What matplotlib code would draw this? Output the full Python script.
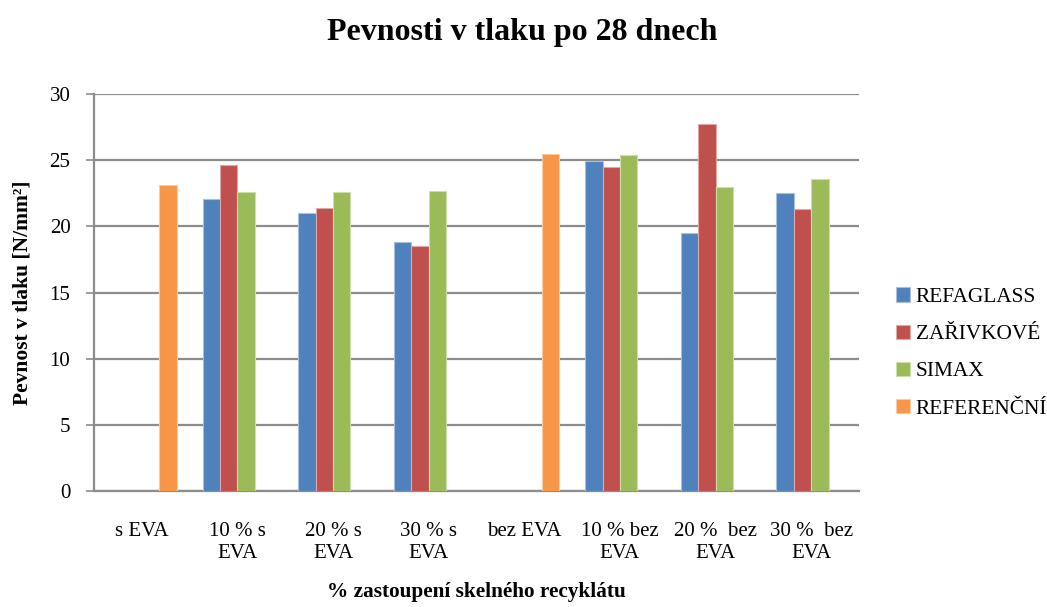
import matplotlib
matplotlib.use("Agg")
import matplotlib.pyplot as plt
import numpy as np

categories = ["s EVA", "10 % s\nEVA", "20 % s\nEVA", "30 % s\nEVA", "bez EVA",
              "10 % bez\nEVA", "20 %  bez\nEVA", "30 %  bez\nEVA"]
series_names = ["REFAGLASS", "ZAŘIVKOVÉ", "SIMAX", "REFERENČNÍ"]
refaglass = [np.nan, 22.1, 21.0, 18.8, np.nan, 24.9, 19.5, 22.5]
zarivkove = [np.nan, 24.6, 21.4, 18.5, np.nan, 24.5, 27.7, 21.3]
simax = [np.nan, 22.6, 22.6, 22.7, np.nan, 25.4, 23.0, 23.6]
referencni = [23.1, np.nan, np.nan, np.nan, 25.5, np.nan, np.nan, np.nan]
colors = ["#4F81BD", "#C0504D", "#9BBB59", "#F79646"]
edges = ["#A7C0DE", "#DFA8A6", "#CDDDAC", "#FBCAA2"]

plt.rcParams['font.family'] = ['Liberation Serif', 'DejaVu Serif']

fig = plt.figure(figsize=(10.47, 6.07), dpi=100)
ax = fig.add_axes([94/1047, 1 - 491/607, (859 - 94)/1047, (491 - 94)/607])

x = np.arange(len(categories))
w = 1 / 5.5
data = [refaglass, zarivkove, simax, referencni]
for i, (vals, name) in enumerate(zip(data, series_names)):
    ax.bar(x + (i - 1.5) * w, vals, width=w, color=colors[i], edgecolor=edges[i],
           linewidth=0.8, label=name, zorder=3)

ax.set_xlim(-0.5, len(categories) - 0.5)
ax.set_ylim(0, 30)
ax.set_yticks(range(0, 31, 5))
ax.yaxis.grid(True, color="#8C8C8C", linewidth=1.6, zorder=0)
ax.set_axisbelow(True)
for s in ["top", "right"]:
    ax.spines[s].set_visible(False)
for s in ["left", "bottom"]:
    ax.spines[s].set_color("#8C8C8C")
    ax.spines[s].set_linewidth(1.6)
ax.tick_params(axis="y", length=6, width=1.2, color="#8C8C8C", labelsize=15, pad=11)
ax.tick_params(axis="x", length=0, labelsize=15, pad=22)
ax.set_xticks(x)
ax.set_xticklabels(categories, linespacing=1.25)

ax.set_ylabel("Pevnost v tlaku [N/mm²]", fontsize=15.5, fontweight="bold", labelpad=12)
ax.set_xlabel("% zastoupení skelného recyklátu", fontsize=15.3, fontweight="bold", labelpad=14)
fig.suptitle("Pevnosti v tlaku po 28 dnech", fontsize=23, fontweight="bold", x=522/1047, y=0.97)

leg = fig.legend(loc="upper left", bbox_to_anchor=(890/1047, 1 - 281/607), frameon=False,
                 fontsize=15.4, handlelength=0.65, handleheight=0.65, handletextpad=0.25,
                 labelspacing=0.82, borderaxespad=0, borderpad=0.3)

fig.savefig("out.png", dpi=100)
